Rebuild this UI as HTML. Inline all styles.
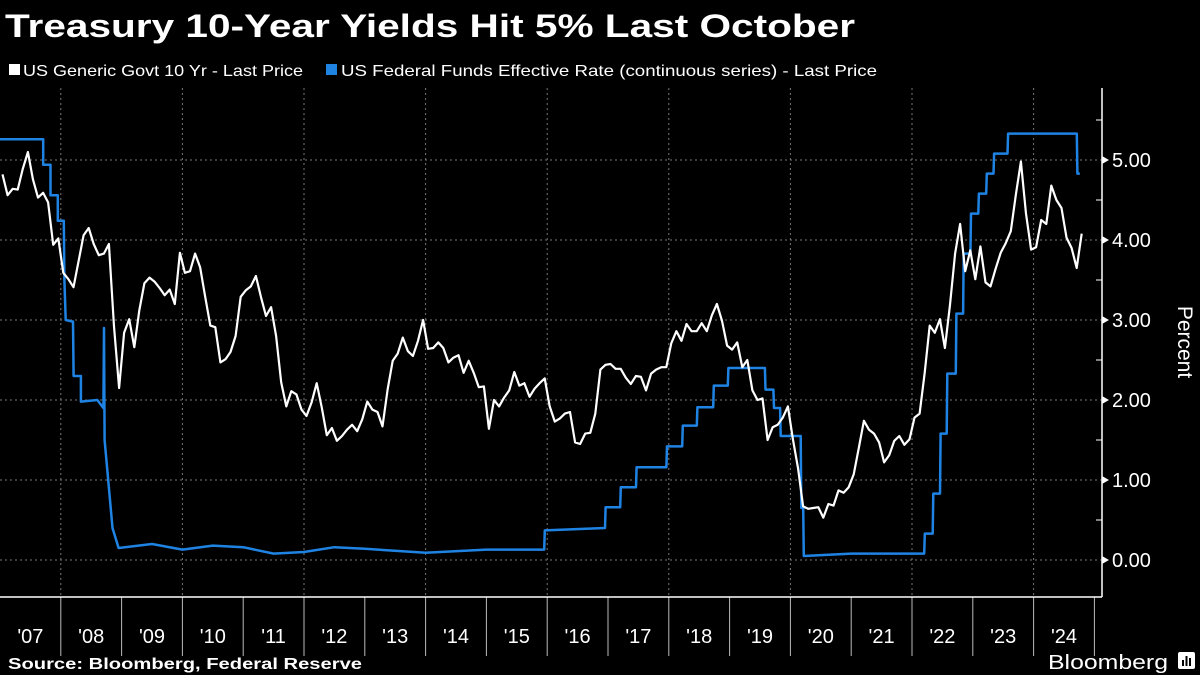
<!DOCTYPE html>
<html><head><meta charset="utf-8"><style>
html,body{margin:0;padding:0;background:#000;}
svg{display:block;font-family:"Liberation Sans",sans-serif;}
</style></head><body>
<svg id="chart" width="1200" height="675" viewBox="0 0 1200 675">
<rect width="1200" height="675" fill="#000"/>
<text x="5" y="37" fill="#fff" font-weight="bold" font-size="32" textLength="850" lengthAdjust="spacingAndGlyphs">Treasury 10-Year Yields Hit 5% Last October</text>
<g>
<rect x="9" y="64" width="11" height="11" fill="#fff"/>
<text x="23" y="76" fill="#fff" font-size="16" textLength="280" lengthAdjust="spacingAndGlyphs">US Generic Govt 10 Yr - Last Price</text>
<rect x="326" y="64" width="11" height="11" fill="#1f83e3"/>
<text x="341" y="76" fill="#fff" font-size="16" textLength="536" lengthAdjust="spacingAndGlyphs">US Federal Funds Effective Rate (continuous series) - Last Price</text>
</g>
<g id="grid"></g>
<g id="series"></g>
<g id="axes"></g>
<text transform="translate(1178,342) rotate(90)" text-anchor="middle" fill="#fff" font-size="21">Percent</text>
<text x="8" y="669" fill="#fff" font-weight="bold" font-size="16" textLength="354" lengthAdjust="spacingAndGlyphs">Source: Bloomberg, Federal Reserve</text>
<text x="1048" y="669" fill="#fff" font-size="20" textLength="120" lengthAdjust="spacingAndGlyphs">Bloomberg</text>
<g><rect x="1178" y="652" width="17" height="17" rx="2" fill="#fff"/><rect x="1182" y="660" width="2" height="6" fill="#000"/><rect x="1185.5" y="656" width="2" height="10" fill="#000"/><rect x="1189" y="658" width="2" height="8" fill="#000"/></g>
</svg>
<script>
const yearLabels = ["'07","'08","'09","'10","'11","'12","'13","'14","'15","'16","'17","'18","'19","'20","'21","'22","'23","'24"];
const yTicks = [0,1,2,3,4,5];
const yTickLabels = ["0.00","1.00","2.00","3.00","4.00","5.00"];
const t10Start = 2007.0;
const t10Monthly = [
4.82,4.56,4.64,4.63,4.89,5.10,4.76,4.53,4.59,4.47,3.94,4.02,
3.59,3.51,3.41,3.73,4.06,4.15,3.95,3.81,3.83,3.95,2.92,2.15,
2.84,3.01,2.66,3.12,3.46,3.53,3.48,3.40,3.31,3.38,3.20,3.84,
3.59,3.61,3.83,3.66,3.29,2.93,2.91,2.47,2.51,2.60,2.80,3.29,
3.37,3.42,3.55,3.29,3.05,3.16,2.80,2.22,1.92,2.11,2.07,1.88,
1.80,1.97,2.21,1.91,1.56,1.65,1.49,1.55,1.63,1.69,1.61,1.76,
1.98,1.88,1.85,1.67,2.13,2.49,2.58,2.78,2.61,2.55,2.74,3.00,
2.64,2.65,2.72,2.65,2.47,2.53,2.56,2.34,2.49,2.34,2.16,2.17,
1.64,2.00,1.92,2.03,2.12,2.35,2.18,2.21,2.04,2.14,2.21,2.27,
1.92,1.73,1.77,1.83,1.85,1.47,1.45,1.58,1.59,1.83,2.38,2.44,
2.45,2.39,2.39,2.28,2.20,2.30,2.29,2.12,2.33,2.38,2.41,2.41,
2.71,2.86,2.74,2.95,2.86,2.86,2.96,2.86,3.06,3.20,2.99,2.68,
2.63,2.72,2.41,2.50,2.12,2.00,2.02,1.50,1.66,1.69,1.78,1.92,
1.51,1.15,0.67,0.64,0.65,0.66,0.53,0.70,0.68,0.87,0.84,0.91,
1.07,1.40,1.74,1.63,1.58,1.47,1.22,1.31,1.49,1.55,1.44,1.51,
1.78,1.83,2.34,2.93,2.84,3.01,2.65,3.19,3.83,4.20,3.61,3.87,
3.51,3.92,3.47,3.42,3.64,3.84,3.96,4.11,4.57,4.98,4.33,3.88,
3.91,4.25,4.20,4.68,4.50,4.40,4.03,3.90,3.65,4.08];
const fedDates = [2007.0,2007.71,2007.71,2007.83,2007.83,2007.95,2007.95,2008.05,2008.06,2008.08,2008.2,2008.21,2008.33,2008.33,2008.6,2008.7,2008.71,2008.72,2008.78,2008.85,2008.95,2009.5,2010.0,2010.5,2011.0,2011.5,2012.0,2012.5,2013.0,2014.0,2015.0,2015.95,2015.96,2016.95,2016.96,2017.2,2017.21,2017.46,2017.47,2017.96,2017.97,2018.22,2018.23,2018.46,2018.47,2018.73,2018.74,2018.97,2018.98,2019.58,2019.59,2019.72,2019.73,2019.83,2019.84,2020.17,2020.18,2020.21,2020.22,2021.0,2022.2,2022.21,2022.34,2022.35,2022.46,2022.47,2022.57,2022.58,2022.72,2022.73,2022.84,2022.85,2022.96,2022.97,2023.09,2023.1,2023.22,2023.23,2023.34,2023.35,2023.57,2023.58,2024.71,2024.72,2024.76];
const fedValues = [5.26,5.26,4.94,4.94,4.56,4.56,4.24,4.24,3.5,3.0,2.98,2.3,2.3,1.98,2.0,1.9,2.9,1.5,1.0,0.4,0.15,0.2,0.13,0.18,0.16,0.08,0.10,0.16,0.14,0.09,0.13,0.13,0.37,0.40,0.66,0.66,0.91,0.91,1.16,1.16,1.42,1.42,1.68,1.68,1.91,1.91,2.18,2.18,2.40,2.40,2.13,2.13,1.90,1.90,1.55,1.55,0.65,0.65,0.05,0.08,0.08,0.33,0.33,0.83,0.83,1.58,1.58,2.33,2.33,3.08,3.08,3.83,3.83,4.33,4.33,4.58,4.58,4.83,4.83,5.08,5.08,5.33,5.33,4.83,4.83];

const NS='http://www.w3.org/2000/svg';
const X0=0, YW=60.8, Y0=560, YU=80, AXR=1102, AXB=597;
function xS(t){return X0+(t-2007)*YW;}
function yS(v){return Y0-v*YU;}
function mk(tag,attrs,parent){const e=document.createElementNS(NS,tag);for(const k in attrs)e.setAttribute(k,attrs[k]);parent.appendChild(e);return e;}
const grid=document.getElementById('grid'), series=document.getElementById('series'), axes=document.getElementById('axes');

yTicks.forEach((v,i)=>{
  const g=mk('line',{x1:0,x2:AXR,y1:yS(v),y2:yS(v),stroke:'#777','stroke-width':1,'stroke-dasharray':'2,3'},grid);
  
  
  const t=mk('path',{d:`M${AXR} ${yS(v)-4} L${AXR+7} ${yS(v)} L${AXR} ${yS(v)+4}Z`,fill:'#fff'},axes);
  
  
  const m=mk('line',{x1:AXR-6,x2:AXR,y1:yS(v+0.5),y2:yS(v+0.5),stroke:'#fff','stroke-width':1},axes);
  
  
  const lb=mk('text',{x:1112,y:yS(v)+7,fill:'#fff','font-size':20},axes);
  lb.textContent=yTickLabels[i];
  
  
});
for(let i=1;i<yearLabels.length;i+=2){
  const g=mk('line',{x1:xS(2007+i),x2:xS(2007+i),y1:88,y2:AXB,stroke:'#777','stroke-width':1,'stroke-dasharray':'2,3'},grid);
  
  
}
yearLabels.forEach((lab,i)=>{
  const s=mk('line',{x1:xS(2008+i),x2:xS(2008+i),y1:AXB,y2:656,stroke:'#bbb','stroke-width':1},axes);
  
  
  const t=mk('text',{x:xS(2007.5+i),y:643,fill:'#fff','font-size':20,'text-anchor':'middle'},axes);
  t.textContent=lab;
  
  
});
const ax1=mk('line',{x1:0,x2:AXR,y1:AXB,y2:AXB,stroke:'#fff','stroke-width':1.5},axes);


const ax2=mk('line',{x1:AXR,x2:AXR,y1:88,y2:AXB,stroke:'#fff','stroke-width':1.5},axes);



let d='';
fedDates.forEach((t,i)=>{d+=(i?'L':'M')+xS(t).toFixed(1)+' '+yS(fedValues[i]).toFixed(1);});
const fl=mk('path',{d:d,fill:'none',stroke:'#1f83e3','stroke-width':2.5,'stroke-linejoin':'round'},series);


d='';
t10Monthly.forEach((v,i)=>{const t=t10Start+(i+0.5)/12;d+=(i?'L':'M')+xS(t).toFixed(1)+' '+yS(v).toFixed(1);});
const tl=mk('path',{d:d,fill:'none',stroke:'#fff','stroke-width':2.2,'stroke-linejoin':'round'},series);


</script>
</body></html>
